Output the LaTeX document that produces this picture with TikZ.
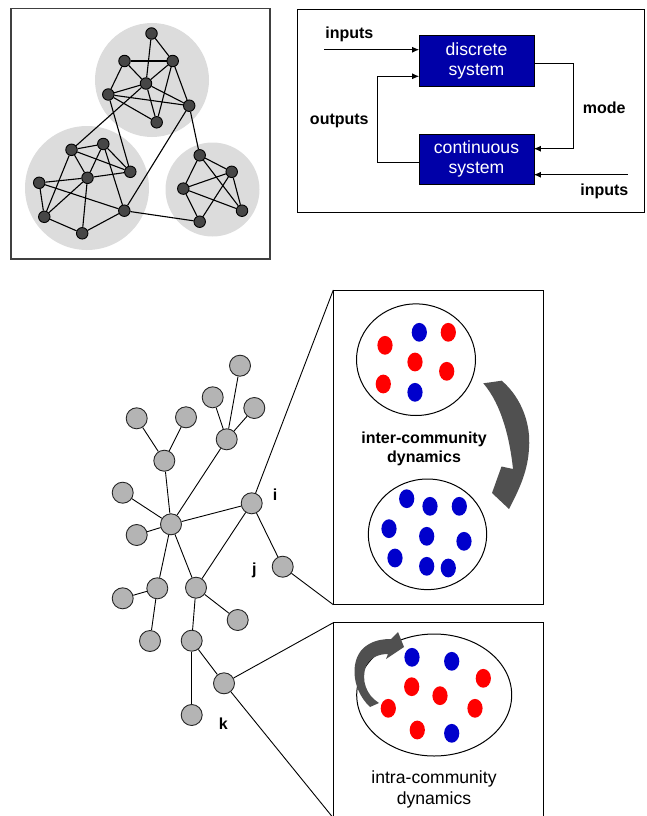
\documentclass[tikz,border=0pt]{standalone}
\usepackage{fontspec}
\setmainfont{Liberation Sans}
\usetikzlibrary{arrows.meta,calc}
\definecolor{boxblue}{RGB}{0,0,168}
\definecolor{dotblue}{RGB}{0,0,204}
\definecolor{dotred}{RGB}{255,0,0}
\definecolor{commgray}{RGB}{220,220,220}
\definecolor{netgray}{RGB}{70,70,70}
\definecolor{treegray}{RGB}{180,180,180}
\definecolor{arrowgray}{RGB}{80,80,80}
\begin{document}
\begin{tikzpicture}[x=1pt,y=-1pt,
  netnode/.style={circle,draw=black,fill=netgray,line width=0.9pt,minimum size=11.5pt,inner sep=0pt},
  netedge/.style={line width=1.1pt},
  treenode/.style={circle,draw=black!85,fill=treegray,line width=0.9pt,minimum size=21pt,inner sep=0pt},
  treeedge/.style={line width=0.9pt},
  sysbox/.style={rectangle,draw=black,fill=boxblue,text=white,minimum width=114.4pt,minimum height=50.6pt,font=\fontsize{17.6}{20}\selectfont,align=center,inner sep=0pt},
  lbl/.style={font=\fontsize{16}{19}\selectfont\bfseries,inner sep=0pt,align=center},
  arr/.style={line width=0.9pt,-{Latex[length=7pt,width=6pt]}},
  frame/.style={line width=1pt,draw=black},
  rdot/.style={fill=dotred},
  bdot/.style={fill=dotblue},
  bigarrow/.style={fill=arrowgray}
]
\useasboundingbox (0,0) rectangle (647,816);

% ---------------- top-left network ----------------
\draw[line width=1.2pt,draw=black!75] (11,8.5) rectangle (270,259);
\fill[commgray] (152,80) circle[radius=57pt];
\fill[commgray] (87,188) circle[radius=62pt];
\fill[commgray] (212.5,189.5) circle[radius=47pt];

\node[netnode] (n1) at (151.5,33.5) {};
\node[netnode] (n2) at (124.5,61) {};
\node[netnode] (n3) at (172.7,61) {};
\node[netnode] (n4) at (146,83.5) {};
\node[netnode] (n5) at (108.3,94.5) {};
\node[netnode] (n6) at (189.2,105.7) {};
\node[netnode] (n7) at (156.7,122.3) {};
\node[netnode] (n8) at (71.5,149.8) {};
\node[netnode] (n9) at (103.3,144) {};
\node[netnode] (n10) at (130.3,171.8) {};
\node[netnode] (n11) at (87.5,177.8) {};
\node[netnode] (n12) at (39.2,182.8) {};
\node[netnode] (n13) at (44.3,216.8) {};
\node[netnode] (n14) at (82.2,233.3) {};
\node[netnode] (n15) at (124.3,210.7) {};
\node[netnode] (n16) at (199.7,155.3) {};
\node[netnode] (n17) at (231.7,171.8) {};
\node[netnode] (n18) at (183.3,188.6) {};
\node[netnode] (n19) at (242,210.7) {};
\node[netnode] (n20) at (199.7,221.7) {};

\foreach \a/\b in {n1/n3,n1/n4,n2/n3,n2/n4,n2/n5,n3/n4,n3/n7,n3/n6,n4/n5,n4/n6,n4/n7,
  n5/n6,n5/n7,n4/n8,n5/n10,n6/n15,n6/n16,
  n8/n9,n8/n10,n8/n11,n8/n13,n9/n11,n9/n10,n9/n15,n11/n12,n11/n10,n11/n13,n11/n14,
  n12/n13,n12/n15,n13/n14,n14/n15,n15/n20,
  n16/n17,n16/n18,n16/n19,n18/n17,n18/n19,n18/n20,n17/n20,n17/n19}
  \draw[netedge] (\a) -- (\b);

% ---------------- top-right hybrid system ----------------
\draw[frame] (297,10) rectangle (644,212.5);
\node[sysbox] (dsys) at (476.5,61) {discrete\\system};
\node[sysbox] (csys) at (476.5,159) {continuous\\system};
\coordinate (inA) at (324.3,49.7);
\coordinate (inB) at (627.7,174.7);
\draw[arr] (inA) -- ([yshift=11.3pt]dsys.west);
\draw[arr] ([yshift=-3pt]csys.west) -- ++(-41.6,0) |- ([yshift=-15.3pt]dsys.west);
\draw[arr] ([yshift=-2pt]dsys.east) -- ++(40,0) |- ([yshift=10.3pt]csys.east);
\draw[arr] (inB) -- ([yshift=-15.7pt]csys.east);
\node[lbl] (tinA) at (349.3,34) {inputs};
\node[lbl] (tout) at (339.3,121.3) {outputs};
\node[lbl] (tmode) at (604.3,107.3) {mode};
\node[lbl] (tinB) at (604.3,191.3) {inputs};

% ---------------- tree ----------------
\node[treenode] (tA) at (240,365.7) {};
\node[treenode] (tB) at (212.7,397.3) {};
\node[treenode] (tC) at (254.3,408) {};
\node[treenode] (tD) at (136.7,418.3) {};
\node[treenode] (tE) at (186,417.3) {};
\node[treenode] (tF) at (226.7,439.3) {};
\node[treenode] (tG) at (164.3,460.7) {};
\node[treenode] (tH) at (122.7,492.7) {};
\node[treenode] (tI) at (251.7,503.3) {};
\node[treenode] (tJ) at (171,524.3) {};
\node[treenode] (tK) at (136.7,535) {};
\node[treenode] (tL) at (282.7,566.7) {};
\node[treenode] (tM) at (157.3,588.3) {};
\node[treenode] (tN) at (196,587.7) {};
\node[treenode] (tO) at (122.7,598.3) {};
\node[treenode] (tP) at (237.7,620) {};
\node[treenode] (tQ) at (150,641) {};
\node[treenode] (tR) at (191.7,640.7) {};
\node[treenode] (tS) at (224,683.3) {};
\node[treenode] (tT) at (191.7,715) {};

\foreach \a/\b in {tA/tF,tB/tF,tC/tF,tD/tG,tE/tG,tG/tJ,tF/tJ,tH/tJ,tK/tJ,tJ/tI,
  tJ/tM,tJ/tN,tI/tN,tI/tL,tM/tO,tM/tQ,tN/tP,tN/tR,tR/tT,tR/tS}
  \draw[treeedge] (\a) -- (\b);

\node[lbl] (li) at (275,495) {i};
\node[lbl] (lj) at (254.3,570) {j};
\node[lbl] (lk) at (223.3,724) {k};

% ---------------- upper panel ----------------
\coordinate (uTL) at (333.3,290);
\coordinate (uBL) at (333.3,604.7);
\coordinate (uTR) at (543.3,290);
\coordinate (uBR) at (543.3,604.7);
\draw[frame] (uTL) -- (uTR) -- (uBR) -- (uBL) -- cycle;
\draw[treeedge] (tI) -- (uTL);
\draw[treeedge] (tL) -- (uBL);

\draw[line width=1pt] (416,359.7) ellipse[x radius=59.5pt,y radius=55.8pt];
\draw[line width=1pt] (427.5,534.3) ellipse[x radius=59.2pt,y radius=55.3pt];

\foreach \x/\y in {448.3/332.3,385/345.3,415/362,446.7/371.3,383.3/384}
  \fill[rdot] (\x,\y) ellipse[x radius=7.6pt,y radius=9.4pt];
\foreach \x/\y in {419.3/332.3,415/392.3,
  406.7/498.7,430/506.3,459.3/506.3,389/528.7,426.7/536.3,464/541.3,395/558,426.7/566.3,448.3/568}
  \fill[bdot] (\x,\y) ellipse[x radius=7.6pt,y radius=9.4pt];

\node[lbl] (tinter) at (424,449.2) {inter-community\\dynamics};

\fill[bigarrow] (483.3,383.3) -- (501.7,380.7)
  .. controls (522,398) and (531,425) .. (529,448)
  .. controls (528,470) and (520,488) .. (509,509)
  -- (492,493) -- (501.5,466.5) -- (513,469)
  .. controls (510,440) and (502,405) .. (483.3,383.3) -- cycle;

% ---------------- lower panel ----------------
\coordinate (lTL) at (333.3,622.7);
\coordinate (lBL) at (333.3,818);
\coordinate (lTR) at (543.3,622.7);
\coordinate (lBR) at (543.3,818);
\draw[frame] (lBL) -- (lTL) -- (lTR) -- (lBR);
\draw[treeedge] (tS) -- (lTL);
\draw[treeedge] (tS) -- (lBL);

\draw[line width=1pt] (434.2,695) ellipse[x radius=77.5pt,y radius=61pt];
\foreach \x/\y in {483.3/678.3,411.7/686.7,440/695.7,388.3/708.3,475/708.3,417.3/730}
  \fill[rdot] (\x,\y) ellipse[x radius=7.6pt,y radius=9.4pt];
\foreach \x/\y in {412/657.3,451.7/661.3,451.7/733.3}
  \fill[bdot] (\x,\y) ellipse[x radius=7.6pt,y radius=9.4pt];

\fill[bigarrow] (370,707)
  .. controls (350,688) and (350,657) .. (366,646)
  .. controls (374,640) and (384,639) .. (391,639)
  -- (398,632) -- (404,647) -- (386,659) -- (388,654)
  .. controls (378,654) and (370,658) .. (366,666)
  .. controls (361,680) and (366,695) .. (379,703) -- cycle;

\node[font=\fontsize{17.6}{20.7}\selectfont,align=center,inner sep=0pt] (tintra) at (434,789.7) {intra-community\\dynamics};
\end{tikzpicture}
\end{document}
